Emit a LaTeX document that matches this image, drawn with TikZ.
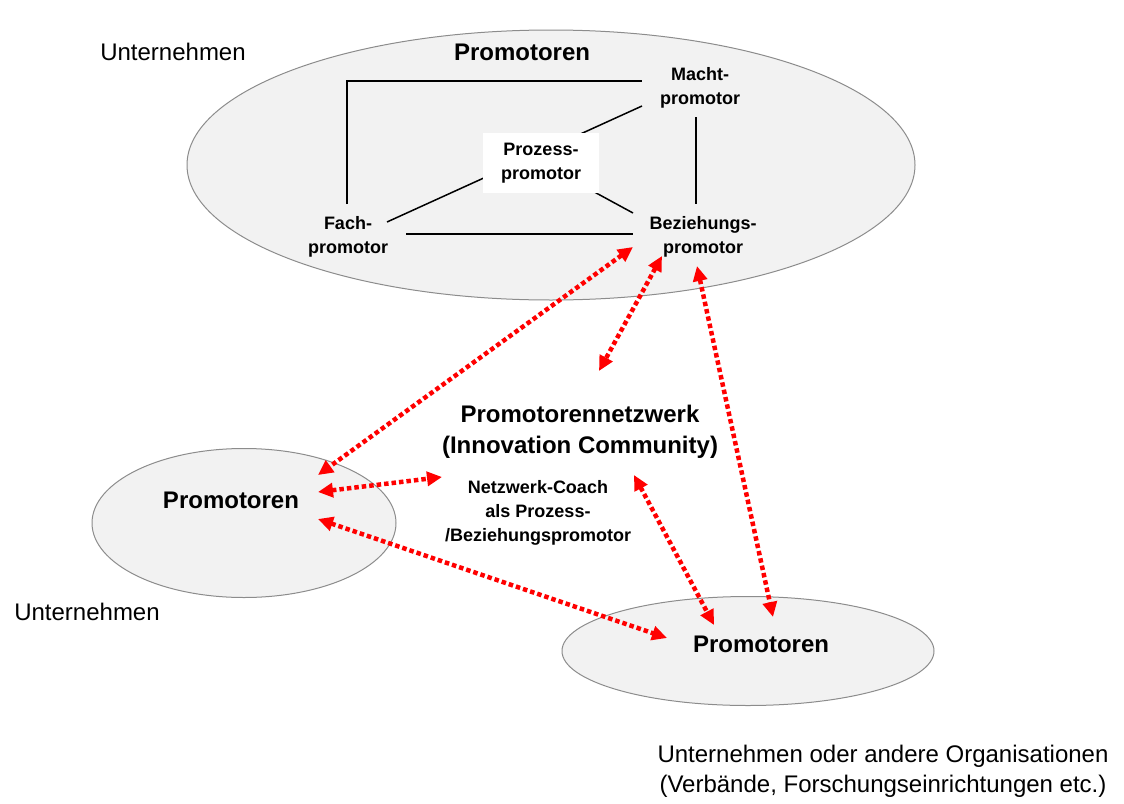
\documentclass[tikz,border=0pt]{standalone}
\usepackage{fontspec}
\setmainfont{Liberation Sans}
\usetikzlibrary{arrows.meta,shapes.geometric,backgrounds}

\definecolor{firmfill}{HTML}{F2F2F2}
\definecolor{firmrim}{HTML}{8C8C8C}
\definecolor{netzred}{HTML}{FF0000}

\tikzset{
  firm/.style={ellipse, draw=firmrim, line width=1pt, fill=firmfill, inner sep=0pt},
  plain/.style={font=\fontsize{24}{30}\selectfont, align=center, inner sep=0pt},
  heavy/.style={font=\bfseries\fontsize{24}{31}\selectfont, align=center, inner sep=0pt},
  role/.style={font=\bfseries\fontsize{18}{24}\selectfont, align=center, inner sep=0pt},
  link/.style={line width=1.5pt, black},
  netz/.style={line width=4.5pt, netzred, dash pattern=on 4.5pt off 3pt,
    arrows={Triangle[length=15pt,width=14pt]-Triangle[length=15pt,width=14pt]}}
}

\begin{document}
\begin{tikzpicture}[x=1pt,y=-1pt]
    \useasboundingbox (0,0) rectangle (1124,803);

    % labels
    \node[plain] (unt-a) at (173,52) {Unternehmen};
    \node[heavy] (prom-a) at (522,52) {Promotoren};
    \node[role] (macht) at (700,88) {Macht-\\promotor};
    \node[role, fill=white, minimum width=116pt, minimum height=60pt] (proz) at (541,163) {Prozess-\\promotor};
    \node[role] (fach) at (348,237) {Fach-\\promotor};
    \node[role] (bez) at (703,237) {Beziehungs-\\promotor};
    \node[heavy] (netzwerk) at (580,432) {Promotorennetzwerk\\(Innovation Community)};
    \node[role] (coach) at (538,513) {Netzwerk-Coach\\als Prozess-\\/Beziehungspromotor};
    \node[heavy] (prom-b) at (231,500) {Promotoren};
    \node[plain] (unt-b) at (87,612) {Unternehmen};
    \node[heavy] (prom-c) at (761,644) {Promotoren};
    \node[plain] (unt-c) at (883,771) {Unternehmen oder andere Organisationen\\(Verbände, Forschungseinrichtungen etc.)};

    % ends of the links
    \coordinate (fach-n) at (347,204);
    \coordinate (fach-ne) at (387,222);
    \coordinate (fach-e) at (406,234);
    \coordinate (macht-w) at (642,81);
    \coordinate (macht-sw) at (642,106);
    \coordinate (macht-s) at (696,117);
    \coordinate (bez-n) at (696,204);
    \coordinate (bez-nw) at (633,213);
    \coordinate (bez-w) at (633,234);

    % companies and links behind the labels
    \begin{scope}[on background layer]
        \node[firm, minimum width=728pt, minimum height=270pt] (firm-a) at (551,165) {};
        \node[firm, minimum width=304pt, minimum height=149pt] (firm-b) at (244,523) {};
        \node[firm, minimum width=372pt, minimum height=109pt] (firm-c) at (748,651) {};

        \draw[link] (fach-n) |- (macht-w);
        \draw[link] (fach-ne) -- (macht-sw);
        \draw[link] (macht-s) -- (bez-n);
        \draw[link] (proz.center) -- (bez-nw);
        \draw[link] (fach-e) -- (bez-w);
    \end{scope}

    % ends of the network arrows
    \coordinate (bez-a) at (633,247);
    \coordinate (bez-b) at (662,256);
    \coordinate (bez-c) at (697,266);
    \coordinate (netz-top) at (599,371);
    \coordinate (coach-w) at (442,477);
    \coordinate (coach-ne) at (634,475);
    \coordinate (prom-b-a) at (318,475);
    \coordinate (prom-b-b) at (318,492);
    \coordinate (prom-b-c) at (318,519);
    \coordinate (prom-c-a) at (667,638);
    \coordinate (prom-c-b) at (714,625);
    \coordinate (prom-c-c) at (773,617);

    % network arrows
    \draw[netz] (bez-a) -- (prom-b-a);
    \draw[netz] (bez-b) -- (netz-top);
    \draw[netz] (bez-c) -- (prom-c-c);
    \draw[netz] (prom-b-b) -- (coach-w);
    \draw[netz] (prom-b-c) -- (prom-c-a);
    \draw[netz] (coach-ne) -- (prom-c-b);

\end{tikzpicture}
\end{document}
